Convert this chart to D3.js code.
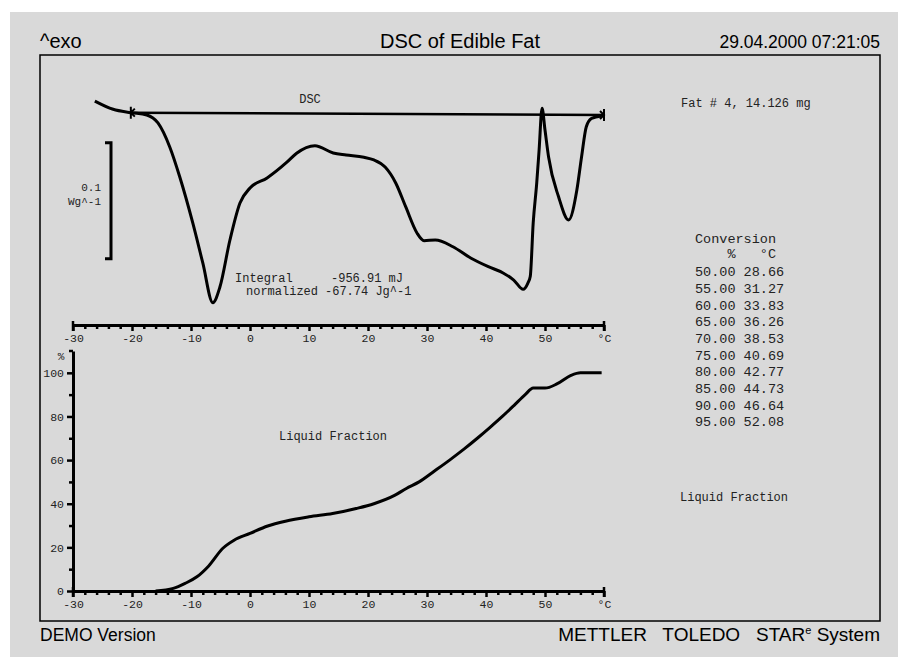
<!DOCTYPE html>
<html>
<head>
<meta charset="utf-8">
<script src="https://cdn.jsdelivr.net/npm/d3@7"></script>
<style>
body { margin: 0; background: #fff; }
.mono { font-family: "Liberation Mono", "Courier New", monospace; white-space: pre; }
.sans { font-family: "Liberation Sans", Arial, sans-serif; white-space: pre; }
</style>
</head>
<body>
<div id="chart"></div>
<script>
// DSC of edible fat: heat flow curve (top) and liquid fraction (bottom)

// DSC heat flow, W/g vs degC
var dscTemp = [-26.3, -23.2, -20.2, -17.5, -15.6, -13.6, -11.9, -9.7, -8.0, -6.3, -5.1, -3.4, -1.7, 0.0,
	2.9, 6.3, 7.9, 11.0, 14.1, 16.3, 19.3, 21.0, 22.9, 24.7, 26.4, 28.3, 29.5, 31.4, 34.4, 37.4, 40.4,
	42.9, 44.7, 46.3, 47.1, 47.5, 48.0, 48.6, 49.0, 49.5, 50.0, 50.6, 52.3, 54.0, 55.4, 56.2, 57.0, 57.9, 59.6];
var dscFlow = [0.0103, 0.0032, 0.0003, -0.0017, -0.0086, -0.0293, -0.0552, -0.0948, -0.1293, -0.1635,
	-0.150, -0.1095, -0.0776, -0.0647, -0.056, -0.0422, -0.0347, -0.0282, -0.0345, -0.0362, -0.0382,
	-0.0405, -0.0466, -0.0603, -0.081, -0.1034, -0.1101, -0.1095, -0.1153, -0.125, -0.1325, -0.1379,
	-0.144, -0.152, -0.1466, -0.141, -0.0948, -0.0603, -0.0319, 0.0041, -0.0147, -0.0377, -0.0722,
	-0.0922, -0.0664, -0.0377, -0.0118, -0.0046, -0.0026];

// integration baseline (start, end)
var baseTemp = [-20.2, 60];
var baseFlow = [0.0003, -0.0017];

// 0.1 W/g scale bar
var barTop = -0.0256;
var barSize = 0.1;

// liquid fraction, % vs degC
var lfTemp = [-16, -13, -11, -9, -7, -4.6, -2.7, 0, 3, 6, 10, 14, 18, 21, 24.5, 26.5, 28.66, 31.27,
	33.83, 36.26, 38.53, 40.69, 42.77, 44.73, 46.64, 48, 50, 52.08, 54.4, 56, 59.6];
var lfPct = [0, 1.2, 3.5, 6.5, 11.5, 19.6, 23.3, 26.4, 29.8, 32, 34, 35.5, 37.8, 40, 43.8, 47, 50, 55,
	60, 65, 70, 75, 80, 85, 90, 93, 93, 95, 98.8, 100, 100];

// conversion table
var convPct = [50, 55, 60, 65, 70, 75, 80, 85, 90, 95];
var convTemp = [28.66, 31.27, 33.83, 36.26, 38.53, 40.69, 42.77, 44.73, 46.64, 52.08];

// ticks
var xTicks = [-30, -28, -26, -24, -22, -20, -18, -16, -14, -12, -10, -8, -6, -4, -2, 0, 2, 4, 6, 8, 10,
	12, 14, 16, 18, 20, 22, 24, 26, 28, 30, 32, 34, 36, 38, 40, 42, 44, 46, 48, 50, 52, 54, 56, 58, 60];
var pctTicks = [0, 10, 20, 30, 40, 50, 60, 70, 80, 90, 100];

var width = 898;
var height = 657;

var svg = d3.select("#chart")
	.append("svg")
		.attr("width", width)
		.attr("height", height);

svg.append("rect")
	.attr("x", 10).attr("y", 12)
	.attr("width", width - 10).attr("height", height - 12)
	.attr("fill", "#d9d9d9");

svg.append("rect")
	.attr("x", 40).attr("y", 55)
	.attr("width", 840).attr("height", 566)
	.attr("fill", "none")
	.attr("stroke", "#000")
	.attr("stroke-width", 1.5);

var x = d3.scaleLinear().domain([-30, 60]).range([73, 604]);
var yDsc = d3.scaleLinear().domain([-0.2, 0.05]).range([345, 55]);
var yLf = d3.scaleLinear().domain([0, 110]).range([591, 351]);

var topAxisY = 325;

function drawXAxis(y) {
	var g = svg.append("g").attr("transform", "translate(0," + y + ")");
	g.call(d3.axisBottom(x)
		.tickValues(xTicks)
		.tickSize(4)
		.tickSizeOuter(0)
		.tickFormat(function(d) {
			if (d === 60) return "°C";
			return d % 10 === 0 ? String(d) : "";
		}));
	g.select(".domain").attr("stroke-width", 3);
	g.selectAll(".tick line")
		.attr("stroke-width", 2.5)
		.attr("y2", function(d) { return d % 10 === 0 ? 6 : 4; });
	g.selectAll(".tick text")
		.attr("y", 9)
		.attr("class", "mono")
		.attr("font-size", 11.5)
		.attr("fill", "#222");
	// end caps
	g.selectAll(".cap")
		.data([-30, 60])
		.enter().append("line")
			.attr("x1", function(d) { return x(d); })
			.attr("x2", function(d) { return x(d); })
			.attr("y1", -4).attr("y2", 6)
			.attr("stroke", "#000")
			.attr("stroke-width", 2.5);
}

drawXAxis(topAxisY);
drawXAxis(yLf(0));

// y axis of liquid fraction
var gy = svg.append("g").attr("transform", "translate(" + x(-30) + ",0)");
gy.call(d3.axisLeft(yLf)
	.tickValues(pctTicks)
	.tickSize(6)
	.tickSizeOuter(0)
	.tickFormat(function(d) { return d % 20 === 0 ? d : ""; }));
gy.select(".domain").attr("stroke-width", 3);
gy.selectAll(".tick line")
	.attr("stroke-width", 2.5)
	.attr("x2", function(d) { return d % 20 === 0 ? -6 : -4; });
gy.selectAll(".tick text")
	.attr("x", -9)
	.attr("class", "mono")
	.attr("font-size", 11.5)
	.attr("fill", "#222");
gy.append("line")
	.attr("x1", -4).attr("x2", 0)
	.attr("y1", yLf(110)).attr("y2", yLf(110))
	.attr("stroke", "#000").attr("stroke-width", 2.5);

// DSC curve
var dscLine = d3.line()
	.x(function(d) { return x(d[0]); })
	.y(function(d) { return yDsc(d[1]); })
	.curve(d3.curveMonotoneX);

svg.append("path")
	.datum(d3.zip(baseTemp, baseFlow))
	.attr("d", d3.line().x(function(d) { return x(d[0]); }).y(function(d) { return yDsc(d[1]); }))
	.attr("fill", "none")
	.attr("stroke", "#000")
	.attr("stroke-width", 2.5);

svg.append("path")
	.datum(d3.zip(dscTemp, dscFlow))
	.attr("d", dscLine)
	.attr("fill", "none")
	.attr("stroke", "#000")
	.attr("stroke-width", 3)
	.attr("stroke-linejoin", "round");

// baseline limit markers
var bx0 = x(baseTemp[0]), by0 = yDsc(baseFlow[0]);
var bx1 = x(baseTemp[1]), by1 = yDsc(baseFlow[1]);
svg.append("path")
	.attr("d", "M" + bx0 + "," + (by0 - 6) + "V" + (by0 + 6) +
		"M" + (bx0 + 4) + "," + (by0 - 4) + "L" + bx0 + "," + by0 + "L" + (bx0 + 4) + "," + (by0 + 4) +
		"M" + bx1 + "," + (by1 - 6) + "V" + (by1 + 6) +
		"M" + (bx1 - 4) + "," + (by1 - 4) + "L" + bx1 + "," + by1 + "L" + (bx1 - 4) + "," + (by1 + 4))
	.attr("fill", "none")
	.attr("stroke", "#000")
	.attr("stroke-width", 2);

// scale bar
var barX = 111;
svg.append("path")
	.attr("d", "M" + (barX - 6) + "," + yDsc(barTop) + "H" + barX + "V" + yDsc(barTop - barSize) + "H" + (barX - 6))
	.attr("fill", "none")
	.attr("stroke", "#000")
	.attr("stroke-width", 3);

// liquid fraction curve
svg.append("path")
	.datum(d3.zip(lfTemp, lfPct))
	.attr("d", d3.line()
		.x(function(d) { return x(d[0]); })
		.y(function(d) { return yLf(d[1]); })
		.curve(d3.curveMonotoneX))
	.attr("fill", "none")
	.attr("stroke", "#000")
	.attr("stroke-width", 3)
	.attr("stroke-linejoin", "round");

// texts
function mono(t, px, py, size, anchor) {
	return svg.append("text")
		.attr("class", "mono")
		.attr("x", px).attr("y", py)
		.attr("font-size", size)
		.attr("text-anchor", anchor || "start")
		.attr("fill", "#222")
		.text(t);
}

mono("DSC", 310, 103, 12, "middle");
mono("Fat # 4, 14.126 mg", 681, 107, 12);
mono("0.1", 101, 191, 11, "end");
mono("Wg^-1", 101, 205, 11, "end");
mono("Integral", 235, 282, 12);
mono("-956.91 mJ", 331, 282, 12);
mono("normalized", 246, 295, 12);
mono("-67.74 Jg^-1", 325, 295, 12);
mono("%", 61, 360, 11, "middle");
mono("Liquid Fraction", 279, 440, 12);
mono("Liquid Fraction", 680, 501, 12);

mono("Conversion", 695, 243, 13.5);
mono("    %   °C", 695, 258, 13.5);
var fmt = d3.format(".2f");
convPct.forEach(function(p, i) {
	mono(fmt(p) + " " + fmt(convTemp[i]), 695, 276.4 + i * 16.67, 13.5);
});

function sans(t, px, py, size, anchor) {
	return svg.append("text")
		.attr("class", "sans")
		.attr("x", px).attr("y", py)
		.attr("font-size", size)
		.attr("text-anchor", anchor || "start")
		.attr("fill", "#000")
		.text(t);
}

sans("^exo", 40, 48, 20);
sans("DSC of Edible Fat", 460, 48, 20, "middle");
sans("29.04.2000 07:21:05", 880, 48, 17.5, "end");
sans("DEMO Version", 40, 641, 17.5);

var brand = svg.append("text")
	.attr("class", "sans")
	.attr("x", 880).attr("y", 641)
	.attr("font-size", 19)
	.attr("text-anchor", "end");
brand.append("tspan").text("METTLER   TOLEDO   STAR");
brand.append("tspan").attr("font-size", 11).attr("dy", -7).text("e");
brand.append("tspan").attr("dy", 7).text(" System");
</script>
</body>
</html>
